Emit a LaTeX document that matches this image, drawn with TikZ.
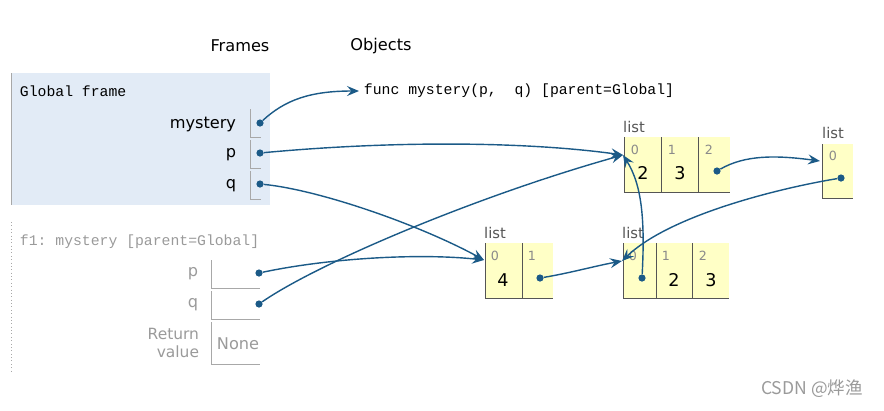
\documentclass[tikz,border=0pt]{standalone}
\usepackage{fontspec}
\setmainfont{DejaVu Sans}
\setmonofont{Liberation Mono}
\newfontfamily\cjkfont{Noto Sans CJK SC}
\usetikzlibrary{arrows.meta}
\definecolor{ptblue}{HTML}{1B5A87}
\definecolor{framebg}{HTML}{E2EBF6}
\definecolor{cellbg}{HTML}{FFFFC6}
\definecolor{linegray}{HTML}{A8A8A8}
\definecolor{cellline}{HTML}{555555}
\definecolor{idxgray}{HTML}{8A8A8A}
\definecolor{fadegray}{HTML}{9A9A9A}

\begin{document}
\begin{tikzpicture}[x=0.025cm,y=-0.025cm,
  ptr/.style={draw=ptblue,line width=1pt,-{Stealth[length=3mm,width=2.5mm,inset=1.1mm]}},
  ptrdot/.style={circle,fill=ptblue,inner sep=0pt,minimum size=1.8mm},
  headtext/.style={font=\fontsize{11.5}{14}\selectfont},
  monotext/.style={anchor=west,font=\ttfamily\fontsize{10.5}{13}\selectfont},
  varname/.style={anchor=east,font=\fontsize{11.5}{14}\selectfont},
  listname/.style={text=cellline,font=\fontsize{10.5}{13}\selectfont},
  idx/.style={text=idxgray,font=\fontsize{9}{11}\selectfont},
  val/.style={font=\fontsize{12.5}{15}\selectfont}]
\useasboundingbox (0,0) rectangle (884,410);

\node[headtext] (frames) at (240,46) {Frames};
\node[headtext] (objects) at (381,46) {Objects};

% global frame
\fill[framebg] (11,73) rectangle (270,205);
\draw[linegray] (11,73) -- (11,205);
\node[monotext] (gtitle) at (15,91) {Global frame};
\node[varname] (gmystery) at (241,124) {mystery};
\draw[linegray] (250,109) |- (261,137);
\node[ptrdot] (gmysterydot) at (260,123) {};
\node[varname] (gp) at (241,155) {p};
\draw[linegray] (250,140) |- (261,168);
\node[ptrdot] (gpdot) at (260,153) {};
\node[varname] (gq) at (241,186) {q};
\draw[linegray] (250,171) |- (261,199);
\node[ptrdot] (gqdot) at (260,184) {};

% f1 frame
\draw[linegray,dotted] (11,222) -- (11,372);
\node[monotext,text=fadegray] (ftitle) at (15,242) {f1: mystery [parent=Global]};
\node[varname,text=fadegray] (fp) at (203,274) {p};
\draw[linegray] (211,260) |- (260,288);
\node[ptrdot] (fpdot) at (259,273) {};
\node[varname,text=fadegray] (fq) at (203,305) {q};
\draw[linegray] (211,291) |- (260,319);
\node[ptrdot] (fqdot) at (259,304) {};
\node[varname,text=fadegray,align=right,font=\fontsize{11}{13}\selectfont] (fret) at (204,343) {Return\\value};
\draw[linegray] (211,322) |- (260,364);
\node[headtext,text=fadegray] (fnone) at (238,344) {None};

% objects
\node[monotext] (func) at (359,91) {func mystery(p,~~q) [parent=Global]};

% list A
\node[listname] (Aname) at (634,127) {list};
\fill[cellbg] (624,137) rectangle (730,192);
\draw[cellline] (624,137) |- (730,192);
\draw[cellline] (661,137) -- (661,192) (698,137) -- (698,192);
\node[idx] (A0i) at (635,150) {0};
\node[idx] (A1i) at (672,150) {1};
\node[idx] (A2i) at (709,150) {2};
\node[val] (A0) at (643,173) {2};
\node[val] (A1) at (680,173) {3};
\node[ptrdot] (A2dot) at (717,171) {};
\coordinate (Ain) at (623,155);

% list B
\node[listname] (Bname) at (833,133) {list};
\fill[cellbg] (822,144) rectangle (853,198);
\draw[cellline] (822,144) |- (853,198);
\node[idx] (B0i) at (833,156) {0};
\node[ptrdot] (B0dot) at (841,178) {};
\coordinate (Bin) at (820,161);

% list C
\node[listname] (Cname) at (495,233) {list};
\fill[cellbg] (485,243) rectangle (553,298);
\draw[cellline] (485,243) |- (553,298);
\draw[cellline] (522,243) -- (522,298);
\node[idx] (C0i) at (495,256) {0};
\node[idx] (C1i) at (532,256) {1};
\node[val] (C0) at (503,280) {4};
\node[ptrdot] (C1dot) at (540,278) {};
\coordinate (Cin) at (484,260);

% list D
\node[listname] (Dname) at (633,233) {list};
\fill[cellbg] (623,243) rectangle (729,298);
\draw[cellline] (623,243) |- (729,298);
\draw[cellline] (656,243) -- (656,298) (692,243) -- (692,298);
\node[idx] (D0i) at (633,256) {0};
\node[idx] (D1i) at (666,256) {1};
\node[idx] (D2i) at (703,256) {2};
\node[ptrdot] (D0dot) at (642,278) {};
\node[val] (D1) at (674,280) {2};
\node[val] (D2) at (711,280) {3};
\coordinate (Din) at (622,261);

% pointers
\draw[ptr] (gmysterydot) .. controls (285,100) and (310,91) .. (func.west);
\draw[ptr] (gpdot) .. controls (400,140) and (530,142) .. (Ain);
\draw[ptr] (gqdot) .. controls (320,190) and (420,225) .. (Cin);
\draw[ptr] (fpdot) .. controls (330,258) and (420,253) .. (Cin);
\draw[ptr] (fqdot) .. controls (320,262) and (480,195) .. (Ain);
\draw[ptr] (A2dot) .. controls (745,155) and (775,155) .. (Bin);
\draw[ptr] (C1dot) .. controls (570,273) and (595,266) .. (Din);
\draw[ptr] (B0dot) .. controls (780,188) and (670,215) .. (Din);
\draw[ptr] (D0dot) .. controls (645,220) and (642,185) .. (Ain);

\node[text=fadegray,font=\cjkfont\fontsize{12.5}{15}\selectfont] (mark) at (812,389) {CSDN @烨渔};
\end{tikzpicture}
\end{document}
